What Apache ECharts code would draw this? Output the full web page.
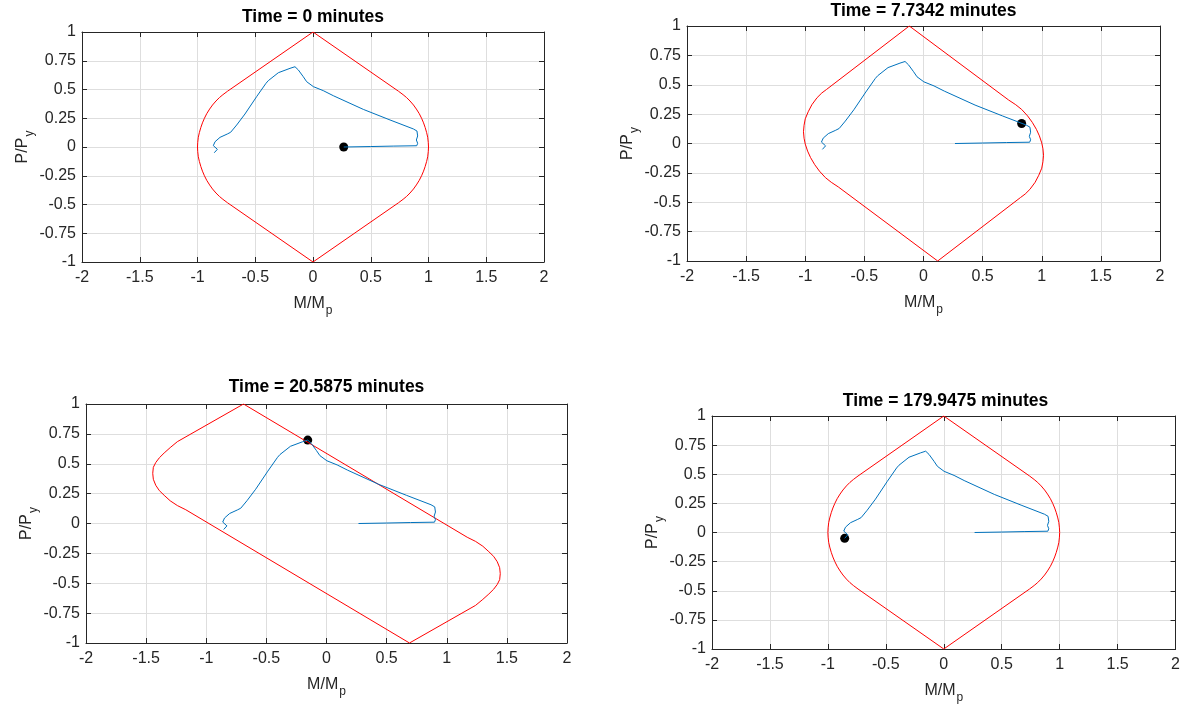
<!DOCTYPE html>
<html>
<head>
<meta charset="utf-8">
<title>Yield surface snapshots</title>
<script src="https://cdn.jsdelivr.net/npm/echarts@6/dist/echarts.min.js"></script>
<style>
  html, body { margin: 0; padding: 0; background: #fff; }
  #chart { width: 1183px; height: 707px; }
</style>
</head>
<body>
<div id="chart"></div>
<script>
// time of each snapshot (minutes)
const times = ['0', '7.7342', '20.5875', '179.9475'];

// load path, M/Mp and P/Py (same in every panel)
const pathM = [0.266, 0.50, 0.70, 0.898, 0.906, 0.895, 0.906, 0.90, 0.869, 0.667, 0.436, 0.176, 0.089, 0.003,
  -0.055, -0.084, -0.127, -0.156, -0.199, -0.30, -0.387, -0.407, -0.488, -0.589, -0.661, -0.713, -0.742,
  -0.805, -0.848, -0.863, -0.848, -0.828, -0.834, -0.855];
const pathP = [0, 0.004, 0.008, 0.011, 0.032, 0.061, 0.096, 0.139, 0.157, 0.235, 0.327, 0.446, 0.490, 0.525,
  0.568, 0.611, 0.670, 0.698, 0.684, 0.646, 0.577, 0.554, 0.438, 0.287, 0.191, 0.128, 0.113,
  0.084, 0.046, 0.012, -0.003, -0.02, -0.032, -0.05];

// current state at each snapshot
const dotM = [0.266, 0.83, -0.156, -0.855];
const dotP = [0, 0.17, 0.698, -0.05];

// yield surfaces [M/Mp, P/Py]
const surfaceA = [
  [0, 1],
  [0.74, 0.485], [0.78, 0.455], [0.81, 0.43], [0.84, 0.40], [0.87, 0.365], [0.895, 0.33], [0.92, 0.29], [0.94, 0.25],
  [0.957, 0.21], [0.971, 0.17], [0.984, 0.125], [0.993, 0.085], [0.998, 0.04], [1, 0],
  [0.998, -0.04], [0.993, -0.085], [0.984, -0.125], [0.971, -0.17], [0.957, -0.21], [0.94, -0.25], [0.92, -0.29],
  [0.895, -0.33], [0.87, -0.365], [0.84, -0.40], [0.81, -0.43], [0.78, -0.455], [0.74, -0.485],
  [0, -1],
  [-0.74, -0.485], [-0.78, -0.455], [-0.81, -0.43], [-0.84, -0.40], [-0.87, -0.365], [-0.895, -0.33], [-0.92, -0.29], [-0.94, -0.25],
  [-0.957, -0.21], [-0.971, -0.17], [-0.984, -0.125], [-0.993, -0.085], [-0.998, -0.04], [-1, 0],
  [-0.998, 0.04], [-0.993, 0.085], [-0.984, 0.125], [-0.971, 0.17], [-0.957, 0.21], [-0.94, 0.25], [-0.92, 0.29],
  [-0.895, 0.33], [-0.87, 0.365], [-0.84, 0.40], [-0.81, 0.43], [-0.78, 0.455], [-0.74, 0.485],
  [0, 1]
];
const surfaceB = [
  [-0.12, 1],
  [0.72, 0.37], [0.78, 0.33], [0.83, 0.29], [0.88, 0.235], [0.92, 0.18], [0.955, 0.12], [0.98, 0.065], [1.0, 0.005],
  [1.01, -0.045], [1.015, -0.10], [1.01, -0.155], [1.0, -0.21], [0.975, -0.27], [0.944, -0.33],
  [0.90, -0.39], [0.86, -0.43], [0.82, -0.46],
  [0.12, -1],
  [-0.72, -0.37], [-0.78, -0.33], [-0.83, -0.29], [-0.88, -0.235], [-0.92, -0.18], [-0.955, -0.12], [-0.98, -0.065], [-1.0, -0.005],
  [-1.01, 0.045], [-1.015, 0.10], [-1.01, 0.155], [-1.0, 0.21], [-0.975, 0.27], [-0.944, 0.33],
  [-0.90, 0.39], [-0.86, 0.43], [-0.82, 0.46],
  [-0.12, 1]
];
const surfaceC = [
  [-0.69, 1],
  [1.17, -0.115], [1.24, -0.15], [1.30, -0.19], [1.35, -0.236], [1.39, -0.275], [1.42, -0.32], [1.44, -0.37], [1.445, -0.42],
  [1.44, -0.47], [1.42, -0.51], [1.39, -0.55], [1.35, -0.59], [1.30, -0.635], [1.24, -0.685],
  [0.69, -1],
  [-1.17, 0.115], [-1.24, 0.15], [-1.30, 0.19], [-1.35, 0.236], [-1.39, 0.275], [-1.42, 0.32], [-1.44, 0.37], [-1.445, 0.42],
  [-1.44, 0.47], [-1.42, 0.51], [-1.39, 0.55], [-1.35, 0.59], [-1.30, 0.635], [-1.24, 0.685],
  [-0.69, 1]
];
const surfaces = [surfaceA, surfaceB, surfaceC, surfaceA];

// axis ticks
const xTicks = [-2, -1.5, -1, -0.5, 0, 0.5, 1, 1.5, 2];
const yTicks = [-1, -0.75, -0.5, -0.25, 0, 0.25, 0.5, 0.75, 1];

const font = '"Liberation Sans", Arial, sans-serif';
const ink = '#262626';

// panel boxes in pixels
const boxes = [
  { left: 82, top: 32, width: 462, height: 230, titleTop: 8 },
  { left: 687, top: 26, width: 473, height: 235, titleTop: 2 },
  { left: 86, top: 404, width: 481, height: 239, titleTop: 378 },
  { left: 712, top: 416, width: 467, height: 233, titleTop: 392 }
];

const path = pathM.map((m, i) => [m, pathP[i]]);

const nameRich = {
  m: { fontSize: 16, fontFamily: font, color: ink },
  s: { fontSize: 12, fontFamily: font, color: ink, padding: [15, 0, 0, 1] }
};

function axisCommon(ticks) {
  return {
    type: 'value',
    min: ticks[0],
    max: ticks[ticks.length - 1],
    interval: ticks[1] - ticks[0],
    axisLine: { show: true, onZero: false, lineStyle: { color: ink, width: 1 } },
    axisTick: { show: true, inside: true, length: 5, lineStyle: { color: ink } }
  };
}

const grid = [], xAxis = [], yAxis = [], title = [], series = [];

boxes.forEach((b, i) => {
  grid.push({ left: b.left, top: b.top, width: b.width, height: b.height, containLabel: false });
  title.push({
    text: 'Time = ' + times[i] + ' minutes',
    left: b.left + b.width / 2,
    top: b.titleTop,
    textAlign: 'center',
    padding: 0,
    textStyle: { fontFamily: font, fontSize: 17.5, fontWeight: 'bold', color: '#000' }
  });
  xAxis.push(Object.assign(axisCommon(xTicks), {
    gridIndex: i,
    position: 'bottom',
    axisLabel: { color: ink, fontSize: 16, fontFamily: font, margin: 8 },
    splitLine: { show: true, lineStyle: { color: '#dedede', width: 1 } },
    name: '{m|M/M}{s|p}',
    nameLocation: 'middle',
    nameGap: 28,
    nameTextStyle: { rich: nameRich }
  }));
  xAxis.push(Object.assign(axisCommon(xTicks), {
    gridIndex: i,
    position: 'top',
    axisLabel: { show: false },
    splitLine: { show: false }
  }));
  yAxis.push(Object.assign(axisCommon(yTicks), {
    gridIndex: i,
    position: 'left',
    axisLabel: { color: ink, fontSize: 16, fontFamily: font, margin: 6 },
    splitLine: { show: true, lineStyle: { color: '#dedede', width: 1 } },
    name: '{m|P/P}{s|y}',
    nameLocation: 'middle',
    nameGap: 44,
    nameTextStyle: { rich: nameRich }
  }));
  yAxis.push(Object.assign(axisCommon(yTicks), {
    gridIndex: i,
    position: 'right',
    axisLabel: { show: false },
    splitLine: { show: false }
  }));

  series.push({
    type: 'line',
    xAxisIndex: 2 * i,
    yAxisIndex: 2 * i,
    data: surfaces[i],
    symbol: 'none',
    lineStyle: { color: '#ff0000', width: 1 },
    silent: true
  });
  series.push({
    type: 'line',
    xAxisIndex: 2 * i,
    yAxisIndex: 2 * i,
    data: path,
    symbol: 'none',
    lineStyle: { color: '#0072bd', width: 1 },
    silent: true
  });
  series.push({
    type: 'scatter',
    xAxisIndex: 2 * i,
    yAxisIndex: 2 * i,
    data: [[dotM[i], dotP[i]]],
    symbolSize: 9,
    itemStyle: { color: '#000', opacity: 1 },
    silent: true
  });
});

const chart = echarts.init(document.getElementById('chart'));
chart.setOption({
  animation: false,
  backgroundColor: '#fff',
  title: title,
  grid: grid,
  xAxis: xAxis,
  yAxis: yAxis,
  series: series
});
</script>
</body>
</html>
